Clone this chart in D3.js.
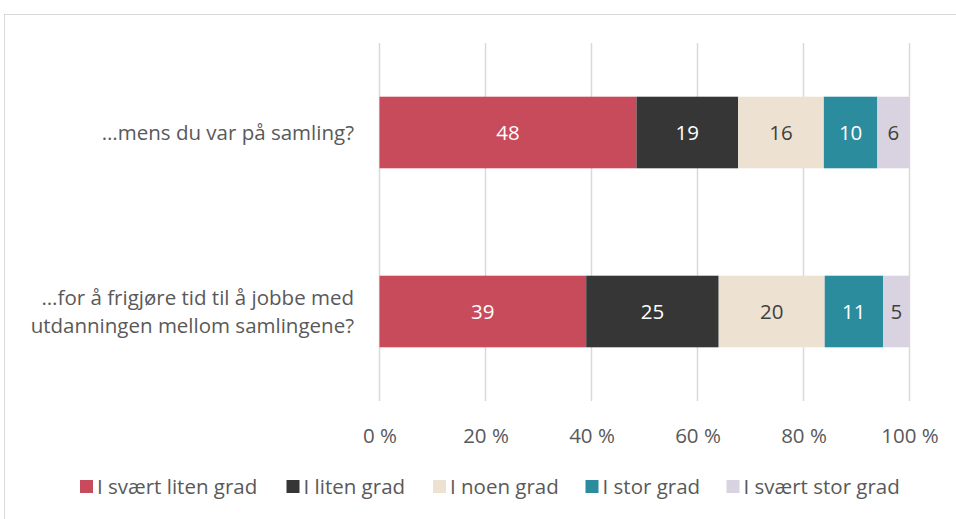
<!DOCTYPE html>
<html>
  <head>
    <script src="https://d3js.org/d3.v7.min.js"></script>
    <style>
      body { margin: 0; background: #fff; }
      text { font-family: "Open Sans", sans-serif; fill: #595959; }
    </style>
  </head>
  <body>
    <script>
      // data
      var categories = ["…mens du var på samling?", "…for å frigjøre tid til å jobbe med utdanningen mellom samlingene?"];
      var categoryLines = [["…mens du var på samling?"], ["…for å frigjøre tid til å jobbe med", "utdanningen mellom samlingene?"]];
      var seriesNames = ["I svært liten grad", "I liten grad", "I noen grad", "I stor grad", "I svært stor grad"];
      var svaertLiten = [48, 39];
      var liten = [19, 25];
      var noen = [16, 20];
      var stor = [10, 11];
      var svaertStor = [6, 5];
      var tickValues = [0, 0.2, 0.4, 0.6, 0.8, 1];
      var tickLabels = ["0 %", "20 %", "40 %", "60 %", "80 %", "100 %"];

      var colors = ["#c84b5b", "#363636", "#ede1d2", "#2b8c9e", "#d9d3e1"];
      var labelColors = ["#fff", "#fff", "#404040", "#fff", "#404040"];

      var rows = categories.map(function(c, i) {
        return {cat: c, s0: svaertLiten[i], s1: liten[i], s2: noen[i], s3: stor[i], s4: svaertStor[i]};
      });
      var keys = ["s0", "s1", "s2", "s3", "s4"];

      var W = 956, H = 519;
      var svg = d3.select("body").append("svg")
          .attr("width", W)
          .attr("height", H);

      // chart frame
      svg.append("rect")
          .attr("x", 4.5).attr("y", 14.5)
          .attr("width", W + 10).attr("height", H + 10)
          .attr("fill", "none")
          .attr("stroke", "#d9d9d9");

      var x = d3.scaleLinear().domain([0, 1]).range([379.5, 909.5]);
      var y = d3.scaleBand().domain(categories).range([43, 401]).paddingInner(0.6).paddingOuter(0.3);

      // gridlines
      svg.append("g").selectAll("line")
          .data(tickValues)
        .join("line")
          .attr("x1", function(d) { return x(d); })
          .attr("x2", function(d) { return x(d); })
          .attr("y1", 43).attr("y2", 401)
          .attr("stroke", "#d9d9d9")
          .attr("stroke-width", 1.5);

      var stack = d3.stack().keys(keys).offset(d3.stackOffsetExpand);
      var layers = stack(rows);

      var g = svg.append("g").selectAll("g")
          .data(layers)
        .join("g")
          .attr("fill", function(d, i) { return colors[i]; });

      g.selectAll("rect")
          .data(function(d) { return d; })
        .join("rect")
          .attr("x", function(d) { return x(d[0]); })
          .attr("width", function(d) { return x(d[1]) - x(d[0]); })
          .attr("y", function(d) { return y(d.data.cat); })
          .attr("height", y.bandwidth());

      g.each(function(layer, li) {
        d3.select(this).selectAll("text")
            .data(layer)
          .join("text")
            .attr("x", function(d) { return (x(d[0]) + x(d[1])) / 2; })
            .attr("y", function(d) { return y(d.data.cat) + y.bandwidth() / 2; })
            .attr("dy", "0.36em")
            .attr("text-anchor", "middle")
            .style("font-size", "20.5px")
            .style("fill", labelColors[li])
            .text(function(d) { return d.data[layer.key]; });
      });

      // x axis labels
      var axis = d3.axisBottom(x).tickValues(tickValues)
          .tickFormat(function(d, i) { return tickLabels[i]; })
          .tickSize(0).tickPadding(0);
      var ax = svg.append("g").attr("transform", "translate(0,430)").call(axis);
      ax.select(".domain").remove();
      ax.selectAll("text").style("font-size", "20.5px").attr("dy", "0.36em").attr("y", 6);

      // category labels
      categories.forEach(function(c, i) {
        var lines = categoryLines[i];
        var cy = y(c) + y.bandwidth() / 2;
        var lh = 28;
        lines.forEach(function(l, j) {
          svg.append("text")
              .attr("x", 354)
              .attr("y", cy + (j - (lines.length - 1) / 2) * lh)
              .attr("dy", "0.36em")
              .attr("text-anchor", "end")
              .style("font-size", "20.5px")
              .text(l);
        });
      });

      // legend
      var legendX = [80, 286.5, 433, 585.5, 726.5];
      var lg = svg.append("g").selectAll("g")
          .data(seriesNames)
        .join("g")
          .attr("transform", function(d, i) { return "translate(" + legendX[i] + ",480)"; });
      lg.append("rect")
          .attr("width", 13).attr("height", 13)
          .attr("fill", function(d, i) { return colors[i]; });
      lg.append("text")
          .attr("x", 17).attr("y", 7)
          .attr("dy", "0.36em")
          .style("font-size", "20.5px")
          .text(function(d) { return d; });
    </script>
  </body>
</html>
